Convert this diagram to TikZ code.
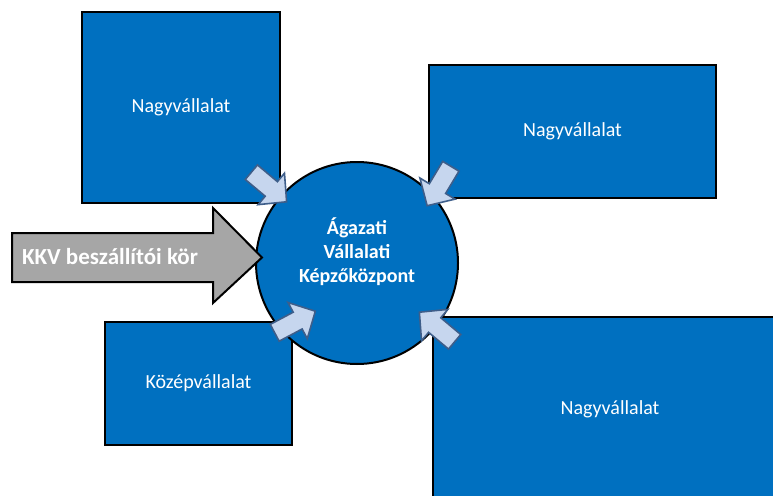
\documentclass[tikz,border=0pt]{standalone}
\usepackage{fontspec}
\setmainfont{Carlito}
\definecolor{boxblue}{HTML}{0070C0}
\definecolor{lightarr}{HTML}{C6D6EE}
\definecolor{arredge}{HTML}{3E5E8A}
\definecolor{greyarr}{HTML}{A6A6A6}
\tikzset{
  box/.style={draw=black, line width=2.2pt, fill=boxblue, text=white, inner sep=0pt,
    font=\fontsize{20}{24}\selectfont},
  smallarr/.style={draw=arredge, line width=1.6pt, fill=lightarr, line join=miter},
}
\newcommand{\blockarr}[2]{%
  \begin{scope}[shift={#1}, rotate=#2]
    \draw[smallarr] (-23,-9.5) -- (3,-9.5) -- (3,-20.5) -- (23,0) -- (3,20.5) -- (3,9.5) -- (-23,9.5) -- cycle;
  \end{scope}}
\begin{document}
\begin{tikzpicture}[x=1pt,y=-1pt]
\useasboundingbox (0,0) rectangle (773,495);
\clip (0,0) rectangle (773,495);
% boxes
\node[box, minimum width=198pt, minimum height=191pt] (b1) at (181,107.5) {Nagyvállalat};
\node[box, minimum width=287pt, minimum height=133pt] (b2) at (572.5,131.5) {Nagyvállalat};
\node[box, minimum width=187pt, minimum height=123pt] (b3) at (198.5,383.5) {Középvállalat};
\node[box, minimum width=354pt, minimum height=184pt] (b4) at (610,409) {Nagyvállalat};
% central circle
\node[circle, draw=black, line width=2pt, fill=boxblue, minimum size=202pt, inner sep=0pt] (c) at (357,263) {};
\node[text=white, align=center, font=\bfseries\fontsize{20}{24}\selectfont] (ct) at (357,252) {Ágazati\\Vállalati\\Képzőközpont};
% grey arrow
\draw[line width=2pt, fill=greyarr, line join=miter] (12,233) -- (213,233) -- (213,208) -- (262,257.5) -- (213,303) -- (213,282) -- (12,282) -- cycle;
\node[text=white, font=\bfseries\fontsize{23}{27}\selectfont] (kkv) at (110,257) {KKV beszállítói kör};
% small arrows
\blockarr{(269,187)}{-40}
\blockarr{(439,186)}{-121}
\blockarr{(295,322)}{28}
\blockarr{(437,327)}{140}
\end{tikzpicture}
\end{document}
